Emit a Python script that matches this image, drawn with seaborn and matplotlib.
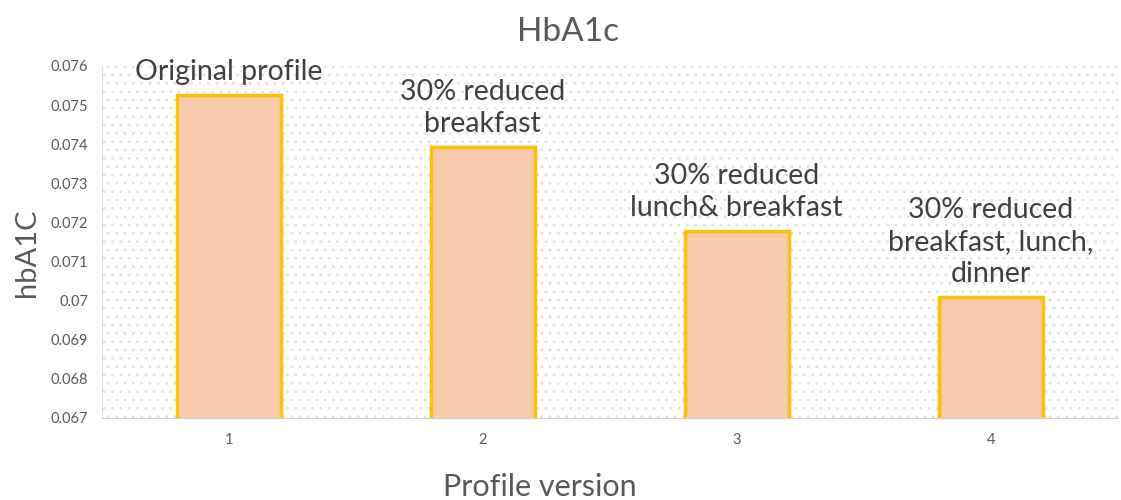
import matplotlib
matplotlib.use("Agg")
import matplotlib.pyplot as plt
import seaborn as sns
import pandas as pd
from matplotlib.patches import Rectangle

# data
versions = ["1", "2", "3", "4"]
hba1c = [0.07526, 0.07393, 0.07178, 0.07009]
labels = [
    "Original profile",
    "30% reduced\nbreakfast",
    "30% reduced\nlunch& breakfast",
    "30% reduced\nbreakfast, lunch,\ndinner",
]
yticks = [0.067, 0.068, 0.069, 0.07, 0.071, 0.072, 0.073, 0.074, 0.075, 0.076]
ytick_labels = ["0.067", "0.068", "0.069", "0.07", "0.071", "0.072", "0.073", "0.074", "0.075", "0.076"]

sns.set_style("white")
plt.rcParams["font.family"] = ["Lato", "DejaVu Sans"]
plt.rcParams["hatch.linewidth"] = 0.8

grey = "#595959"
df = pd.DataFrame({"version": versions, "hba1c": hba1c})

fig, ax = plt.subplots(figsize=(11.21, 5.0), dpi=100)
fig.subplots_adjust(left=0.091, right=0.997, top=0.868, bottom=0.164)

sns.barplot(data=df, x="version", y="hba1c", color="#f8cbad", width=0.41,
            edgecolor="#ffc000", linewidth=2.5, saturation=1, ax=ax, zorder=2)

ax.set_ylim(0.067, 0.076)
ax.set_xlim(-0.5, 3.5)
ax.set_yticks(yticks)
ax.set_yticklabels(ytick_labels)

# dotted background
ax.add_patch(Rectangle((0, 0), 1, 1, transform=ax.transAxes, facecolor="white",
                       edgecolor="#e2e2e2", hatch="..", linewidth=0, zorder=0))

for i, (v, t) in enumerate(zip(hba1c, labels)):
    ax.annotate(t, xy=(i, v), xytext=(0, 7), textcoords="offset points",
                ha="center", va="bottom", fontsize=20.5, color="#404040",
                linespacing=1.3)

ax.set_title("HbA1c", fontsize=24, color=grey, pad=18, x=0.459)
ax.set_xlabel("Profile version", fontsize=22, color=grey)
ax.xaxis.set_label_coords(0.431, -0.155)
ax.set_ylabel("hbA1C", fontsize=21, color=grey)
ax.yaxis.set_label_coords(-0.061, 0.47)
ax.tick_params(axis="both", labelsize=10.5, colors=grey, length=0)
ax.tick_params(axis="y", pad=10)
ax.tick_params(axis="x", pad=11)

for s in ["top", "right"]:
    ax.spines[s].set_visible(False)
ax.spines["left"].set_color("#e0e0e0")
ax.spines["bottom"].set_color("#d0d0d0")

plt.savefig("out.png", dpi=100)
